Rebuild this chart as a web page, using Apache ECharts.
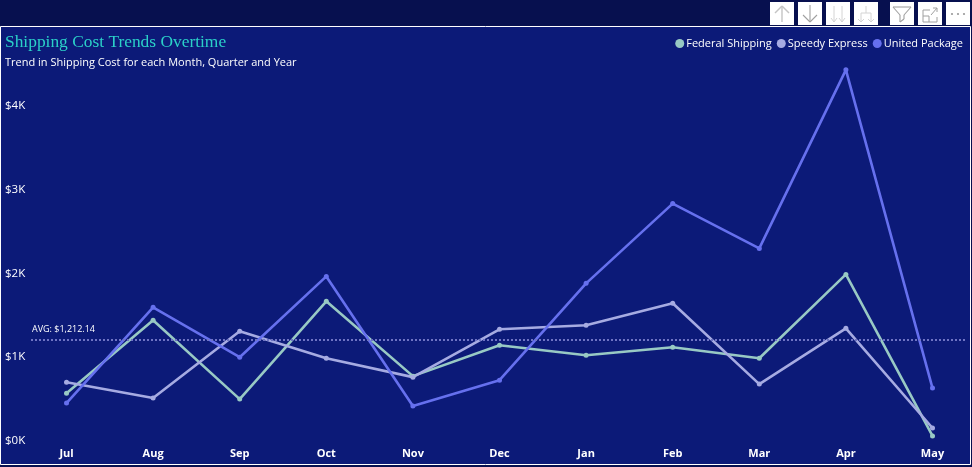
<!DOCTYPE html>
<html><head><meta charset="utf-8">
<style>html,body{margin:0;padding:0;background:#07104f;overflow:hidden}#c{width:972px;height:467px}</style>
<script src="https://cdn.jsdelivr.net/npm/echarts@6/dist/echarts.min.js"></script>
</head><body><div id="c"></div>
<script>
const months=['Jul','Aug','Sep','Oct','Nov','Dec','Jan','Feb','Mar','Apr','May'];
const federal=[571,1440,500,1667,774,1143,1024,1119,988,1988,60];
const speedy=[702,512,1310,988,762,1333,1381,1643,679,1345,155];
const united=[452,1595,1000,1964,417,726,1881,2833,2298,4429,631];
const avgValue=1212.14;
const C={fed:'#98c9c4',spd:'#a6abe2',uni:'#6670ee',bg:'#0c1a78'};
const ui='"Open Sans","Noto Sans",sans-serif';
function ser(name,data,color,extra){return Object.assign({name,type:'line',data,symbol:'circle',symbolSize:5,
 lineStyle:{color,width:2.6},itemStyle:{color},emphasis:{disabled:true},animation:false},extra||{});}
function btn(x,segs,col,lw){const out=[{type:'rect',shape:{x,y:2,width:24,height:23},style:{fill:'#fff'}}];
 segs.forEach(s=>out.push({type:'line',shape:{x1:x+s[0],y1:2+s[1],x2:x+s[2],y2:2+s[3]},style:{stroke:col,lineWidth:lw||1}}));return out;}
const dk='#a0a0a0',lt='#d4d4d4';
const gfx=[
 {type:'rect',z:0,shape:{x:0.5,y:26.5,width:970,height:438},style:{fill:C.bg,stroke:'#fff',lineWidth:1}},
 ...btn(770,[[12,4,12,20],[12,4,5,11],[12,4,19,11]],'#c4c4c4',1.4),
 ...btn(798,[[12,3,12,20],[12,20,5,13],[12,20,19,13]],dk,1.1),
 ...btn(826,[[8,4,8,20],[16,4,16,20],[8,20,5,16],[8,20,11,16],[16,20,13,16],[16,20,19,16]],lt),
 ...btn(854,[[12,4,12,11],[7,11,17,11],[7,11,7,20],[17,11,17,20],[7,20,4,17],[7,20,10,17],[17,20,14,17],[17,20,20,17]],lt),
 ...btn(890,[[3,5,21,5],[3,5,10,13],[21,5,14,13],[10,13,10,20],[14,13,14,17],[10,20,14,17]],dk,1.1),
 ...btn(918,[[5,8,12,8],[5,8,5,20],[5,20,19,20],[19,20,19,15],[5,14,11,14],[11,14,11,20],[13,13,19,6],[15,6,19,6],[19,6,19,10]],dk,1),
 {type:'rect',shape:{x:946,y:2,width:24,height:23},style:{fill:'#fff'}},
 ...[952,958,964].map(cx=>({type:'circle',shape:{cx:cx,cy:14,r:1.1},style:{fill:'#999'}}))
];
const chart=echarts.init(document.getElementById('c'),null,{renderer:'canvas'});
chart.setOption({
 animation:false,
 backgroundColor:'#07104f',
 title:[{text:'Shipping Cost Trends Overtime',left:5,top:34,padding:0,textStyle:{fontFamily:'"Liberation Serif",serif',fontSize:17.4,fontWeight:'normal',color:'#2bd0c8'}},
        {text:'Trend in Shipping Cost for each Month, Quarter and Year',left:5,top:57,padding:0,textStyle:{fontFamily:ui,fontSize:11,fontWeight:'normal',color:'#fff'}}],
 legend:{right:9,top:38,padding:0,itemWidth:9,itemHeight:9,itemGap:5,icon:'circle',textStyle:{color:'#fff',fontFamily:ui,fontSize:11,padding:[0,0,0,-3]},data:['Federal Shipping','Speedy Express','United Package']},
 grid:{left:66.5,right:39.5,top:22,bottom:26,containLabel:false},
 xAxis:{type:'category',data:months,boundaryGap:false,axisLine:{show:false},axisTick:{show:false},
   axisLabel:{color:'#fff',fontFamily:ui,fontSize:11,fontWeight:'bold',margin:7,interval:0,showMinLabel:true,showMaxLabel:true,alignMaxLabel:'center',alignMinLabel:'center'}},
 yAxis:{type:'value',min:0,max:5000,interval:1000,splitLine:{show:false},axisLine:{show:false},axisTick:{show:false},
   axisLabel:{color:'#fff',fontFamily:ui,fontSize:11.5,align:'left',margin:61.5,padding:[2,0,0,0],formatter:v=>v>4000?'':'$'+(v/1000)+'K'}},
 series:[
  ser('Federal Shipping',federal,C.fed),
  ser('Speedy Express',speedy,C.spd),
  ser('United Package',united,C.uni,{markLine:{silent:true,symbol:'none',animation:false,
    lineStyle:{color:'#6f74c4',type:[2,2],width:2},
    label:{show:false},
    data:[[{x:31,yAxis:avgValue},{x:966,yAxis:avgValue}]]}})
 ],
 graphic:gfx
});
const py=chart.convertToPixel({yAxisIndex:0},avgValue);
chart.setOption({graphic:gfx.concat([{type:'text',x:32,y:py-14,style:{text:'AVG: $1,212.14',fill:'#fff',font:'9px '+ui}}])});
</script></body></html>
